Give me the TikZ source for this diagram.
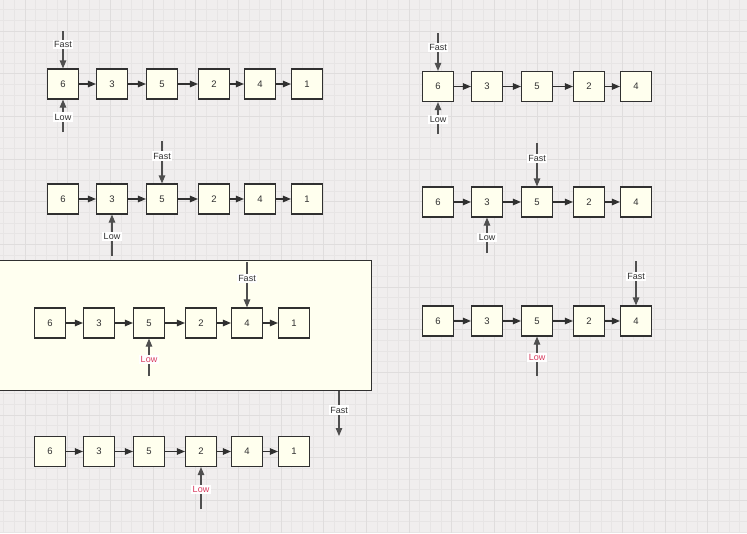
\documentclass[tikz,border=0pt]{standalone}
\usepackage{fontspec}
\setsansfont{Liberation Sans}
\usetikzlibrary{arrows.meta}
\definecolor{bg}{HTML}{F0EEEE}
\definecolor{gridminor}{HTML}{E7E5E5}
\definecolor{gridmajor}{HTML}{DFDDDD}
\definecolor{boxfill}{HTML}{FFFFEE}
\definecolor{panel}{HTML}{FFFFF0}
\definecolor{lowred}{HTML}{D83A5E}
\definecolor{ink}{HTML}{303030}
\tikzset{
  cell/.style={draw=ink, fill=boxfill, line width=1.1pt, minimum width=31pt, minimum height=30pt,
    inner sep=0pt, font=\sffamily\fontsize{9.5}{10}\selectfont, text=ink},
  link/.style={draw=ink, line width=1.1pt, -{Triangle[length=8pt,width=6.5pt]}},
  ptr/.style={draw=ink!85, line width=1.1pt, -{Triangle[length=8pt,width=6.5pt]}},
  tag/.style={fill=white, inner sep=1.5pt, font=\sffamily\fontsize{9}{10}\selectfont, text=ink},
  lowtag/.style={tag, text=lowred},
}
\begin{document}
\begin{tikzpicture}[x=1pt,y=-1pt]
\useasboundingbox (0,0) rectangle (747,533);
% background grid
\fill[bg] (0,0) rectangle (747,533);
\foreach \k in {0,...,70} {
  \draw[gridminor, line width=0.8pt] ({3.67+10.667*\k},0) -- ({3.67+10.667*\k},533);
}
\foreach \k in {0,...,50} {
  \draw[gridminor, line width=0.8pt] (0,{-1+10.667*\k}) -- (747,{-1+10.667*\k});
}
\foreach \k in {0,...,17} {
  \draw[gridmajor, line width=1pt] ({25+42.667*\k},0) -- ({25+42.667*\k},533);
}
\foreach \k in {0,...,12} {
  \draw[gridmajor, line width=1pt] (0,{31+42.667*\k}) -- (747,{31+42.667*\k});
}
% highlighted panel
\filldraw[fill=panel, draw=ink, line width=1pt] (-2,260.5) rectangle (371.5,390.5);

% Row A
\foreach \v/\x [count=\i] in {6/63,3/112,5/162,2/214,4/260,1/307}
  \node[cell] (a\i) at (\x,84) {\v};
\foreach \i [evaluate=\i as \j using int(\i+1)] in {1,...,5}
  \draw[link] (a\i) -- (a\j);
% Row B
\foreach \v/\x [count=\i] in {6/63,3/112,5/162,2/214,4/260,1/307}
  \node[cell] (b\i) at (\x,199) {\v};
\foreach \i [evaluate=\i as \j using int(\i+1)] in {1,...,5}
  \draw[link] (b\i) -- (b\j);
% Row C
\foreach \v/\x [count=\i] in {6/50,3/99,5/149,2/201,4/247,1/294}
  \node[cell] (c\i) at (\x,323) {\v};
\foreach \i [evaluate=\i as \j using int(\i+1)] in {1,...,5}
  \draw[link] (c\i) -- (c\j);
% Row D
\foreach \v/\x [count=\i] in {6/50,3/99,5/149,2/201,4/247,1/294}
  \node[cell] (d\i) at (\x,451.5) {\v};
\foreach \i [evaluate=\i as \j using int(\i+1)] in {1,...,5}
  \draw[link] (d\i) -- (d\j);
% Row E
\foreach \v/\x [count=\i] in {6/438,3/487,5/537,2/589,4/636}
  \node[cell] (e\i) at (\x,86.5) {\v};
\foreach \i [evaluate=\i as \j using int(\i+1)] in {1,...,4}
  \draw[link] (e\i) -- (e\j);
% Row F
\foreach \v/\x [count=\i] in {6/438,3/487,5/537,2/589,4/636}
  \node[cell] (f\i) at (\x,202) {\v};
\foreach \i [evaluate=\i as \j using int(\i+1)] in {1,...,4}
  \draw[link] (f\i) -- (f\j);
% Row G
\foreach \v/\x [count=\i] in {6/438,3/487,5/537,2/589,4/636}
  \node[cell] (g\i) at (\x,321) {\v};
\foreach \i [evaluate=\i as \j using int(\i+1)] in {1,...,4}
  \draw[link] (g\i) -- (g\j);

% pointer start coordinates
\coordinate (fa) at (63,31);   \coordinate (la) at (63,132);
\coordinate (fb) at (162,141); \coordinate (lb) at (112,256);
\coordinate (fc) at (247,262); \coordinate (lc) at (149,376);
\coordinate (fx0) at (339,391); \coordinate (fx1) at (339,436);
\coordinate (ld) at (201,509);
\coordinate (fe) at (438,33);  \coordinate (le) at (438,134);
\coordinate (ff) at (537,143); \coordinate (lf) at (487,253);
\coordinate (fg) at (636,261); \coordinate (lg) at (537,376);

\draw[ptr] (fa) -- (a1.north); \draw[ptr] (la) -- (a1.south);
\draw[ptr] (fb) -- (b3.north); \draw[ptr] (lb) -- (b2.south);
\draw[ptr] (fc) -- (c5.north); \draw[ptr] (lc) -- (c3.south);
\draw[ptr] (fx0) -- (fx1);
\draw[ptr] (ld) -- (d4.south);
\draw[ptr] (fe) -- (e1.north); \draw[ptr] (le) -- (e1.south);
\draw[ptr] (ff) -- (f3.north); \draw[ptr] (lf) -- (f2.south);
\draw[ptr] (fg) -- (g5.north); \draw[ptr] (lg) -- (g3.south);

% labels
\node[tag] (tfa) at (63,44.7) {Fast};   \node[tag] (tla) at (63,117) {Low};
\node[tag] (tfb) at (162,156) {Fast};   \node[tag] (tlb) at (112,236.7) {Low};
\node[tag] (tfc) at (247,278.7) {Fast}; \node[lowtag] (tlc) at (149,359.7) {Low};
\node[tag] (tfx) at (339,410) {Fast};
\node[lowtag] (tld) at (201,489.3) {Low};
\node[tag] (tfe) at (438,47.3) {Fast};  \node[tag] (tle) at (438,119.3) {Low};
\node[tag] (tff) at (537,158.7) {Fast}; \node[tag] (tlf) at (487,237.7) {Low};
\node[tag] (tfg) at (636,276.7) {Fast}; \node[lowtag] (tlg) at (537,357.3) {Low};
\end{tikzpicture}
\end{document}
